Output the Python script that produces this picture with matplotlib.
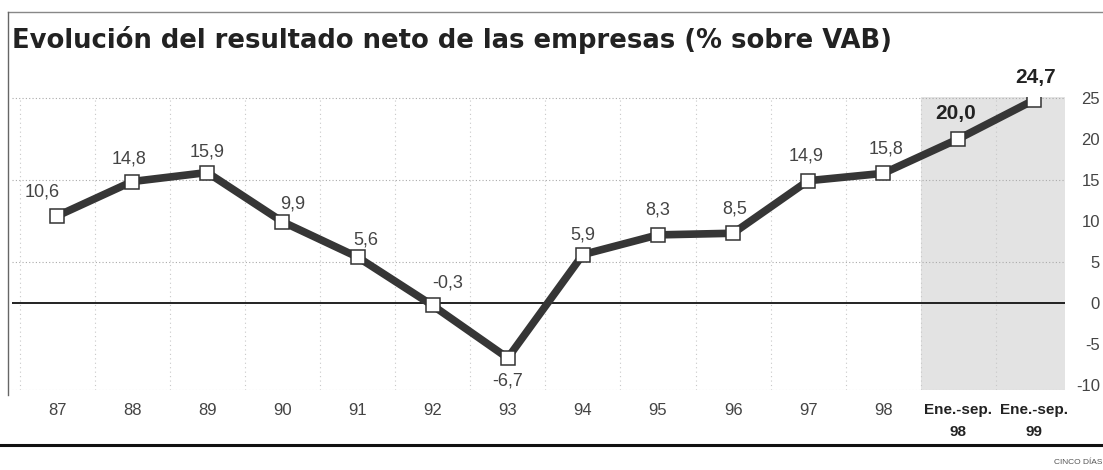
import matplotlib.pyplot as plt
from matplotlib.lines import Line2D
import numpy as np

# datos
periodos = ["87", "88", "89", "90", "91", "92", "93", "94", "95", "96", "97", "98",
            "Ene.-sep.\n98", "Ene.-sep.\n99"]
resultado = [10.6, 14.8, 15.9, 9.9, 5.6, -0.3, -6.7, 5.9, 8.3, 8.5, 14.9, 15.8, 20.0, 24.7]
etiquetas = ["10,6", "14,8", "15,9", "9,9", "5,6", "-0,3", "-6,7", "5,9", "8,3", "8,5",
             "14,9", "15,8", "20,0", "24,7"]
yticks = [-10, -5, 0, 5, 10, 15, 20, 25]

# desplazamiento de cada etiqueta (pixeles)
offsets = [(-15, 24), (-3, 23), (0, 21), (10, 18), (8, 17), (15, 22), (0, -23),
           (0, 20), (0, 25), (2, 24), (-2, 25), (3, 24), (-3, 25), (2, 23)]

narrow = ["Liberation Sans", "DejaVu Sans"]
gris = "#363636"

fig = plt.figure(figsize=(11.03, 4.70), dpi=100)
ax = fig.add_axes([0.0109, 0.1702, 0.9547, 0.6234])

x = np.arange(len(periodos))
ax.set_xlim(-0.6, 13.42)
ax.set_ylim(-10.6, 25.1)

# zona sombreada de los datos Ene.-sep.
ax.axvspan(11.5, 13.42, color="#e3e3e3", zorder=0, lw=0)

# rejilla punteada
for v in [25, 15, 5]:
    ax.axhline(v, color="#aaaaaa", lw=0.8, ls=(0, (1, 2)), zorder=1)
for xv in np.arange(-0.5, 13, 1.0):
    ax.axvline(xv, color="#c8c8c8", lw=0.8, ls=(0, (1, 3)), zorder=1)
ax.axhline(0, color="#111111", lw=1.3, zorder=2)

ax.plot(x, resultado, color=gris, lw=5.5, solid_joinstyle="round", zorder=3)
ax.plot(x, resultado, ls="none", marker="s", ms=10.5, mfc="white", mec="#333333",
        mew=1.1, zorder=4)

for i, (xi, yi) in enumerate(zip(x, resultado)):
    dx, dy = offsets[i]
    bold = i >= 12
    ax.annotate(etiquetas[i], (xi, yi), xytext=(dx * 0.72, dy * 0.72),
                textcoords="offset points", ha="center", va="center",
                fontsize=15 if bold else 13, fontweight="bold" if bold else "normal",
                family=narrow, color="#222222" if bold else "#444444", zorder=5)

for s in ax.spines.values():
    s.set_visible(False)
ax.axhline(-10.6, color="#aaaaaa", lw=0.8, ls=(0, (1, 2)), zorder=1)

ax.set_xticks(x)
ax.set_xticklabels(periodos, family=narrow, fontsize=12, color="#444444",
                   linespacing=1.75, va="top")
for lab in ax.get_xticklabels()[12:]:
    lab.set_fontweight("bold")
    lab.set_color("#222222")
    lab.set_fontsize(11)
ax.tick_params(axis="x", length=0, pad=9)

ax.yaxis.tick_right()
ax.set_yticks(yticks)
ax.set_yticklabels([str(t) for t in yticks], family=narrow, fontsize=12,
                   color="#444444")
for lab in ax.get_yticklabels():
    lab.set_ha("right")
ax.tick_params(axis="y", length=0, pad=25)

# título y marco
fig.text(0.011, 0.915, "Evolución del resultado neto de las empresas (% sobre VAB)",
         fontsize=18.6, fontweight="bold", family="DejaVu Sans", color="#222222",
         va="center", ha="left")
fig.add_artist(Line2D([8 / 1103, 1], [1 - 12 / 470] * 2, color="#888888", lw=1))
fig.add_artist(Line2D([8 / 1103] * 2, [1 - 12 / 470, 1 - 395 / 470], color="#666666", lw=1))
fig.add_artist(Line2D([0, 1], [1 - 445 / 470] * 2, color="#111111", lw=2.2))
fig.text(0.999, 1 - 463 / 470, "CINCO DÍAS", fontsize=6, family=narrow,
         color="#555555", ha="right", va="center")

fig.savefig("out.png", dpi=100)
